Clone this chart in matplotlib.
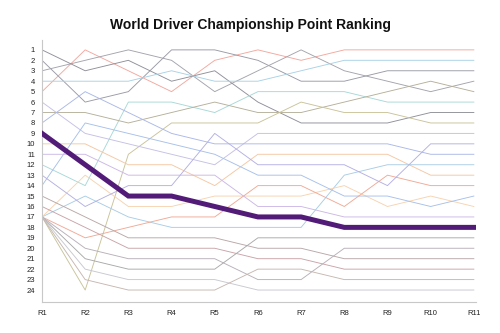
import matplotlib
matplotlib.use("Agg")
import matplotlib.pyplot as plt

rounds = ["R1", "R2", "R3", "R4", "R5", "R6", "R7", "R8", "R9", "R10", "R11"]
rank_labels = [str(i) for i in range(1, 25)]

# rank of each driver after every round (thin background lines)
drv_A = [5, 1, 3, 5, 2, 1, 2, 1, 1, 1, 1]
drv_B = [2, 6, 5, 1, 1, 2, 4, 4, 3, 3, 3]
drv_C = [3, 2, 1, 2, 5, 3, 1, 3, 4, 5, 4]
drv_D = [1, 3, 2, 4, 3, 6, 8, 8, 8, 7, 7]
drv_E = [4, 4, 4, 3, 4, 4, 3, 2, 2, 2, 2]
drv_F = [12, 14, 6, 6, 7, 5, 5, 5, 6, 6, 6]
drv_G = [7, 7, 8, 7, 6, 7, 7, 6, 5, 4, 5]
drv_H = [17, 24, 11, 8, 8, 8, 6, 7, 7, 8, 8]
drv_J = [6, 9, 10, 11, 12, 9, 9, 9, 9, 9, 9]
drv_K = [8, 5, 7, 9, 10, 10, 10, 10, 10, 11, 11]
drv_L = [10, 10, 12, 12, 14, 11, 11, 11, 11, 13, 13]
drv_N = [17, 15, 17, 18, 18, 18, 18, 13, 12, 12, 12]
drv_O = [17, 13, 16, 16, 15, 15, 15, 14, 16, 15, 16]
drv_P = [14, 8, 9, 10, 11, 13, 13, 15, 15, 16, 15]
drv_Q = [17, 19, 18, 17, 17, 14, 14, 16, 13, 14, 14]
drv_R = [11, 11, 13, 13, 13, 16, 16, 17, 17, 17, 17]
drv_S = [13, 16, 14, 14, 9, 12, 12, 12, 14, 10, 10]
drv_a = [15, 17, 19, 19, 19, 20, 20, 21, 21, 21, 21]
drv_b = [16, 18, 20, 20, 20, 21, 21, 22, 22, 22, 22]
drv_c = [17, 20, 21, 21, 21, 23, 23, 20, 20, 20, 20]
drv_d = [17, 21, 22, 22, 22, 19, 19, 19, 19, 19, 19]
drv_e = [17, 22, 23, 23, 23, 24, 24, 24, 24, 24, 24]
drv_f = [17, 23, 24, 24, 24, 22, 22, 23, 23, 23, 23]

# highlighted driver
highlight = [9, 12, 15, 15, 16, 17, 17, 18, 18, 18, 18]

series = [
    (drv_A, "#f2a89e"), (drv_B, "#9a9aa6"), (drv_C, "#a3a3ad"), (drv_D, "#8f8f99"),
    (drv_E, "#a9d2e6"), (drv_F, "#a8d8d8"), (drv_G, "#b5b09a"), (drv_H, "#c9c39a"),
    (drv_J, "#c5c0e6"), (drv_K, "#aab8e8"), (drv_L, "#f5c7a3"), (drv_N, "#a9cde6"),
    (drv_O, "#f7d3b0"), (drv_P, "#a7c0ea"), (drv_Q, "#f1a995"), (drv_R, "#cbb8e6"),
    (drv_S, "#b3b0e3"), (drv_a, "#b9a7a7"), (drv_b, "#c9a3a8"), (drv_c, "#b8b0b8"),
    (drv_d, "#a9a9a9"), (drv_e, "#c8c8d0"), (drv_f, "#c6b7b0"),
]

fig = plt.figure(figsize=(5.0, 3.33), dpi=100)
ax = fig.add_axes([0.084, 0.093, 0.868, 0.787])
x = list(range(len(rounds)))

for vals, col in series:
    ax.plot(x, vals, color=col, lw=0.65, zorder=2)
ax.plot(x, highlight, color="#531b78", lw=3.6, zorder=5, solid_joinstyle="miter")

ax.set_xlim(0, 10.05)
ax.set_ylim(25.15, 0.05)
ax.set_xticks(x)
ax.set_xticklabels(rounds)
ax.set_yticks(range(1, 25))
ax.set_yticklabels(rank_labels)
for s in ["top", "right"]:
    ax.spines[s].set_visible(False)
for s in ["left", "bottom"]:
    ax.spines[s].set_color("#c8c8c8")
    ax.spines[s].set_linewidth(0.8)
ax.tick_params(axis="both", labelsize=5.5, length=0, labelcolor="#222222")
ax.tick_params(axis="y", pad=5)
ax.tick_params(axis="x", pad=6)
for lbl in ax.get_xticklabels() + ax.get_yticklabels():
    lbl.set_family("Liberation Sans")

fig.text(0.5, 0.925, "World Driver Championship Point Ranking", ha="center", va="center",
         fontsize=10, fontweight="bold", family="Liberation Sans", color="#111111")

fig.savefig("out.png", dpi=100)
